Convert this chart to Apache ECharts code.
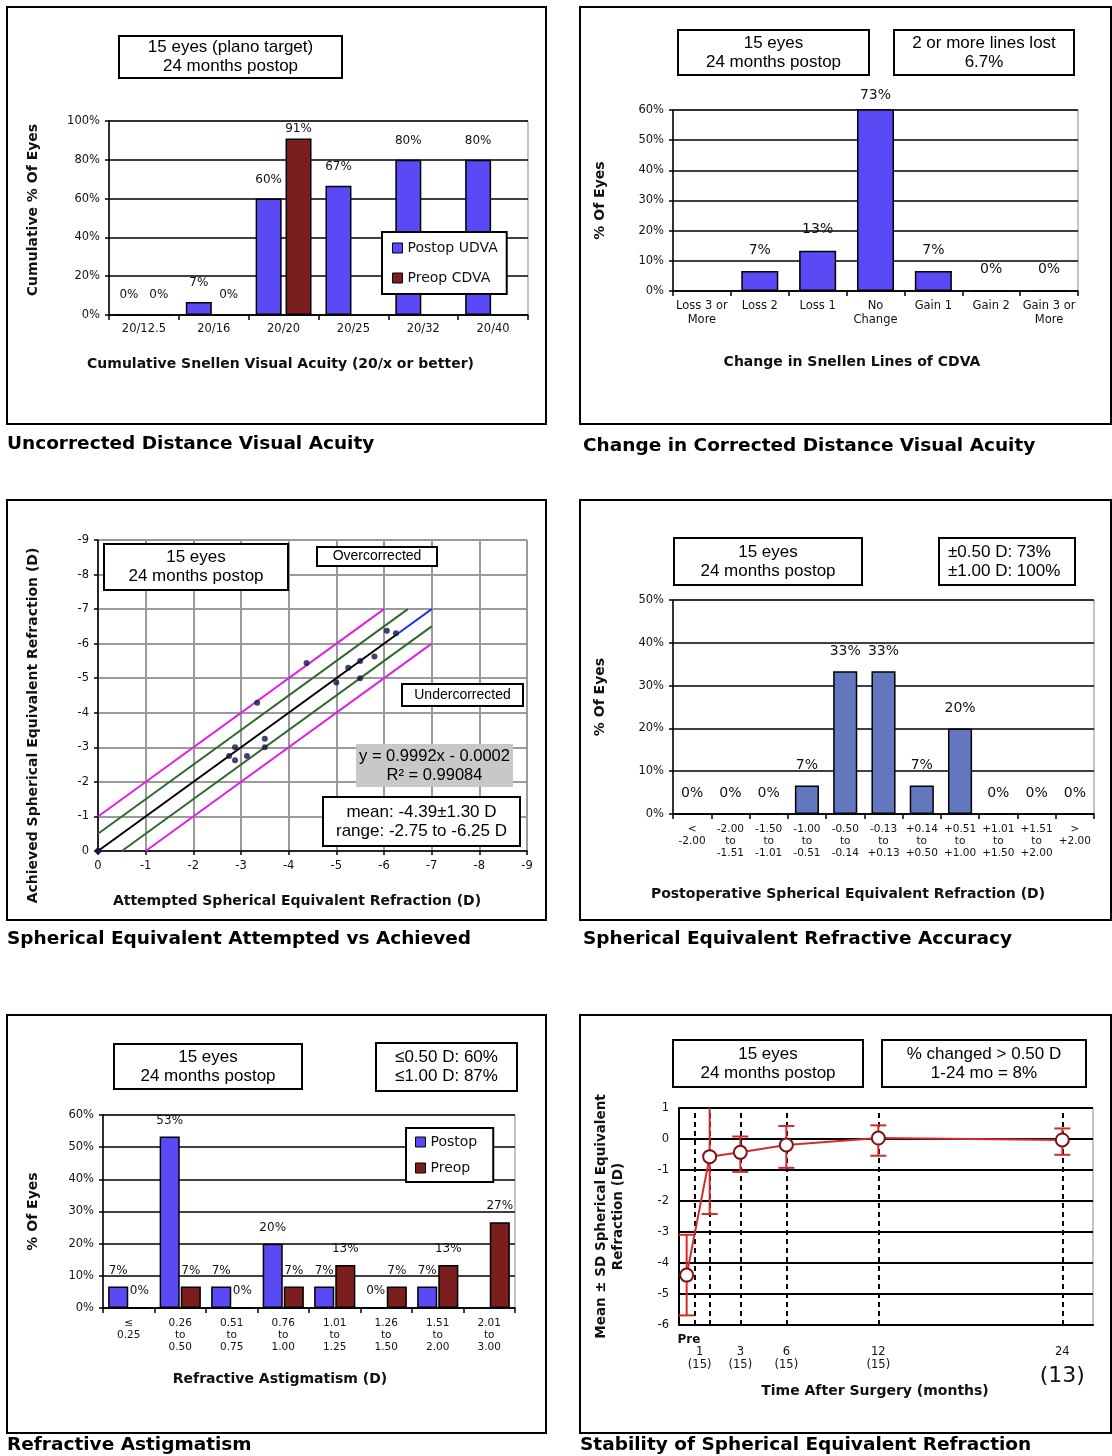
<!DOCTYPE html>
<html>
<head>
<meta charset="utf-8">
<script src="https://cdn.jsdelivr.net/npm/echarts@6/dist/echarts.min.js"></script>
<style>
  html, body { margin: 0; padding: 0; background: #fff; }
  #chart { width: 1112px; height: 1456px; }
</style>
</head>
<body>
<div id="chart"></div>
<script>
// ---------- Uncorrected distance visual acuity (cumulative, 20/x or better) ----------
const udvaCategories = ['20/12.5', '20/16', '20/20', '20/25', '20/32', '20/40'];
const udvaPostop = [0, 6.67, 60, 66.67, 80, 80];
const udvaPreopCdva = [0, 0, 91, null, null, null];

// ---------- Change in Snellen lines of CDVA ----------
const cdvaCategories = ['Loss 3 or\nMore', 'Loss 2', 'Loss 1', 'No\nChange', 'Gain 1', 'Gain 2', 'Gain 3 or\nMore'];
const cdvaValues = [null, 6.67, 13.33, 73.33, 6.67, 0, 0];

// ---------- Attempted vs achieved spherical equivalent (D) ----------
const attemptedSE = [-2.75, -2.875, -2.875, -3.125, -3.5, -3.5, -3.34, -4.375, -5.0, -5.25, -5.5, -5.5, -5.8, -6.06, -6.25];
const achievedSE  = [-2.75, -3.0, -2.625, -2.75, -3.25, -3.0, -4.29, -5.44, -4.875, -5.3, -5.5, -5.0, -5.63, -6.375, -6.3];
const fitSegment   = [[0, 0], [-6.25, -6.25]];
const fitExtension = [[-6.25, -6.25], [-7, -7]];
const halfDioptreBand = [[[0, -0.5], [-6.5, -7]], [[-0.5, 0], [-7, -6.5]]];
const oneDioptreBand  = [[[0, -1], [-6, -7]], [[-1, 0], [-7, -6]]];

// ---------- Postoperative SE refractive accuracy ----------
const seCategories = ['<\n-2.00', '-2.00\nto\n-1.51', '-1.50\nto\n-1.01', '-1.00\nto\n-0.51', '-0.50\nto\n-0.14',
  '-0.13\nto\n+0.13', '+0.14\nto\n+0.50', '+0.51\nto\n+1.00', '+1.01\nto\n+1.50', '+1.51\nto\n+2.00', '>\n+2.00'];
const seValues = [0, 0, 0, 6.67, 33.33, 33.33, 6.67, 20, 0, 0, 0];

// ---------- Refractive astigmatism ----------
const cylCategories = ['≤\n0.25', '0.26\nto\n0.50', '0.51\nto\n0.75', '0.76\nto\n1.00', '1.01\nto\n1.25',
  '1.26\nto\n1.50', '1.51\nto\n2.00', '2.01\nto\n3.00'];
const cylPostop = [6.67, 53.33, 6.67, 20, 6.67, 0, 6.67, null];
const cylPreop  = [0, 6.67, 0, 6.67, 13.33, 6.67, 13.33, 26.67];

// ---------- Stability of SE refraction (mean ± SD) ----------
const stabilityMonths = [-0.5, 1, 3, 6, 12, 24];          // first entry is the preop visit
const stabilityMean   = [-4.39, -0.57, -0.43, -0.19, 0.03, -0.03];
const stabilityLow    = [-5.69, -2.42, -1.06, -0.93, -0.54, -0.51];
const stabilityHigh   = [-3.09, 1.28, 0.08, 0.42, 0.44, 0.34];
const visitGuides     = [0, 1, 3, 6, 12, 24];
const stabilityTicks  = [-1, 1, 3, 6, 12, 24];
const stabilityTickText = ['Pre', '1', '3', '6', '12', '24'];
const stabilityEyes   = [null, 15, 15, 15, 15, 13];

// ---------- shared styles ----------
const SANS = 'DejaVu Sans';
const ARIAL = 'Liberation Sans';
const INK = '#111';
const BLUE = '#5a4af5';
const MAROON = '#7b1e1e';
const STEEL = '#6277bd';
const RED = '#d42a2a';

const pct = p => (p.value == null ? '' : Math.round(p.value) + '%');
const nameFont = { fontFamily: SANS, fontWeight: 'bold', fontSize: 14, color: INK };
const tickFont = { fontFamily: SANS, fontSize: 11.5, color: INK };
const solid = (c, w) => ({ show: true, onZero: false, lineStyle: { color: c, width: w } });
const ticks = len => ({ show: true, length: len, lineStyle: { color: '#000', width: 1.5 } });

function catX(gridIndex, data, name, nameGap, padRight, labelExtra) {
  return {
    type: 'category', gridIndex, data,
    axisLine: solid('#000', 1.5),
    axisTick: ticks(5),
    axisLabel: Object.assign({ interval: 0, margin: 8 }, tickFont, labelExtra || {}),
    splitLine: { show: false },
    name, nameLocation: 'middle', nameGap,
    nameTextStyle: Object.assign({}, nameFont, { padding: [0, padRight, 0, 0] })
  };
}
function pctY(gridIndex, max, interval, name, nameGap, pad) {
  return {
    type: 'value', gridIndex, min: 0, max, interval,
    axisLine: solid('#000', 1.5),
    axisTick: ticks(4),
    axisLabel: Object.assign({ formatter: '{value}%', margin: 9 }, tickFont),
    splitLine: solid('#000', 1.5),
    name, nameLocation: 'middle', nameGap, nameRotate: 90,
    nameTextStyle: Object.assign({}, nameFont, { padding: pad })
  };
}
function barLabel(distance, size) {
  return { show: true, position: 'top', distance, formatter: pct, fontFamily: SANS, fontSize: size, color: INK };
}
const barBorder = { borderColor: '#000', borderWidth: 1.5 };

// framed text boxes
function box(x, y, w, h, text, opt) {
  opt = opt || {};
  const left = opt.align === 'left';
  return [
    { type: 'rect', z: 100, shape: { x, y, width: w, height: h },
      style: { fill: opt.fill || '#fff', stroke: opt.noStroke ? null : '#000', lineWidth: 2 } },
    { type: 'text', z: 101, x: left ? x + 9 : x + w / 2, y: y + h / 2,
      style: { text, fill: '#000', fontFamily: ARIAL, fontSize: opt.size || 17, lineHeight: opt.lh || 19,
               align: left ? 'left' : 'center', verticalAlign: 'middle' } }
  ];
}
function frame(x, y, w, h) {
  return { type: 'rect', z: 90, shape: { x, y, width: w, height: h },
           style: { fill: null, stroke: '#000', lineWidth: 2 } };
}
function panelTitle(text, left, centerY) {
  return { text, left, top: centerY - 8, padding: 0,
           textStyle: { fontFamily: SANS, fontWeight: 'bold', fontSize: 18.5, color: '#000' } };
}

const chart = echarts.init(document.getElementById('chart'), null, { renderer: 'canvas' });

const option = {
  animation: false,
  backgroundColor: '#fff',
  title: [
    panelTitle('Uncorrected Distance Visual Acuity', 7, 443),
    panelTitle('Change in Corrected Distance Visual Acuity', 583, 445),
    panelTitle('Spherical Equivalent Attempted vs Achieved', 7, 938),
    panelTitle('Spherical Equivalent Refractive Accuracy', 583, 938),
    panelTitle('Refractive Astigmatism', 7, 1444),
    panelTitle('Stability of Spherical Equivalent Refraction', 580, 1444)
  ],
  legend: [
    { data: ['Postop UDVA', 'Preop CDVA'], left: 382, top: 232, orient: 'vertical', icon: 'rect',
      itemWidth: 10, itemHeight: 10, itemGap: 14, padding: [8, 9, 8, 10], selectedMode: false,
      backgroundColor: '#fff', borderColor: '#000', borderWidth: 2,
      itemStyle: { borderColor: '#000', borderWidth: 1 },
      textStyle: { fontFamily: SANS, fontSize: 14, color: INK, lineHeight: 16 } },
    { data: ['Postop', 'Preop'], left: 406, top: 1128, orient: 'vertical', icon: 'rect',
      itemWidth: 10, itemHeight: 10, itemGap: 10, padding: [6, 16, 6, 9], selectedMode: false,
      backgroundColor: '#fff', borderColor: '#000', borderWidth: 2,
      itemStyle: { borderColor: '#000', borderWidth: 1 },
      textStyle: { fontFamily: SANS, fontSize: 14, color: INK, lineHeight: 16 } }
  ],
  grid: [
    { left: 109, top: 121, width: 419, height: 194 },
    { left: 673, top: 110, width: 405, height: 181 },
    { left: 98, top: 540, width: 429, height: 311 },
    { left: 673, top: 600, width: 421, height: 214 },
    { left: 103, top: 1115, width: 412, height: 193 },
    { left: 679, top: 1108, width: 414, height: 217 }
  ].map(g => Object.assign({ show: true, borderColor: '#8a8a8a', borderWidth: 1, backgroundColor: 'transparent' }, g)),
  xAxis: [
    catX(0, udvaCategories, 'Cumulative Snellen Visual Acuity (20/x or better)', 42, 76),
    catX(1, cdvaCategories, 'Change in Snellen Lines of CDVA', 64, 47, { lineHeight: 14 }),
    {
      type: 'value', gridIndex: 2, min: -9, max: 0, interval: 1, inverse: true,
      axisLine: solid('#000', 1.5), axisTick: ticks(4),
      axisLabel: Object.assign({ margin: 9 }, tickFont),
      splitLine: solid('#9a9a9a', 2),
      name: 'Attempted Spherical Equivalent Refraction (D)', nameLocation: 'middle', nameGap: 43,
      nameTextStyle: Object.assign({}, nameFont, { padding: [0, 31, 0, 0] })
    },
    catX(3, seCategories, 'Postoperative Spherical Equivalent Refraction (D)', 73, 71,
      { fontSize: 10.5, lineHeight: 12, margin: 9 }),
    catX(4, cylCategories, 'Refractive Astigmatism (D)', 64, 58,
      { fontSize: 10.5, lineHeight: 12, margin: 9 }),
    {
      type: 'value', gridIndex: 5, min: -1, max: 26, interval: 1,
      axisLine: solid('#000', 2), axisTick: { show: false }, splitLine: { show: false },
      axisLabel: Object.assign({}, tickFont, {
        margin: 8, lineHeight: 13, fontSize: 11.5,
        formatter: v => {
          const i = stabilityTicks.indexOf(v);
          if (i < 0) return '';
          if (i === 0) return '{pre|' + stabilityTickText[0] + '}';
          const n = '(' + stabilityEyes[i] + ')';
          if (i === stabilityTicks.length - 1) return '\n' + stabilityTickText[i] + '\n{big|' + n + '}';
          if (i === 1) return '\n{one|' + stabilityTickText[i] + '}\n{one|' + n + '}';
          return '\n' + stabilityTickText[i] + '\n' + n;
        },
        rich: {
          pre: { fontFamily: SANS, fontWeight: 'bold', fontSize: 12, color: INK, padding: [0, 0, 0, 20] },
          one: { fontFamily: SANS, fontSize: 11.5, color: INK, lineHeight: 13, padding: [0, 20, 0, 0] },
          big: { fontFamily: SANS, fontSize: 22, color: INK, lineHeight: 34 }
        }
      }),
      name: 'Time After Surgery (months)', nameLocation: 'middle', nameGap: 59, nameMoveOverlap: false,
      nameTextStyle: Object.assign({}, nameFont, { padding: [0, 22, 0, 0] })
    }
  ],
  yAxis: [
    pctY(0, 100, 20, 'Cumulative % Of Eyes', 69, [0, 0, 0, 16]),
    pctY(1, 60, 10, '% Of Eyes', 66, 0),
    {
      type: 'value', gridIndex: 2, min: -9, max: 0, interval: 1, inverse: true,
      axisLine: solid('#000', 1.5), axisTick: ticks(4),
      axisLabel: Object.assign({ margin: 9 }, tickFont),
      splitLine: solid('#9a9a9a', 2),
      name: 'Achieved Spherical Equivalent Refraction (D)', nameLocation: 'middle', nameGap: 58, nameRotate: 90,
      nameTextStyle: Object.assign({}, nameFont, { padding: [0, 60, 0, 0] })
    },
    pctY(3, 50, 10, '% Of Eyes', 66, [0, 0, 0, 20]),
    pctY(4, 60, 10, '% Of Eyes', 63, 0),
    {
      type: 'value', gridIndex: 5, min: -6, max: 1, interval: 1,
      axisLine: solid('#000', 2), axisTick: { show: false },
      axisLabel: Object.assign({ margin: 10 }, tickFont),
      splitLine: solid('#000', 2),
      name: 'Mean ± SD Spherical Equivalent\nRefraction (D)', nameLocation: 'middle', nameGap: 52, nameRotate: 90,
      nameTextStyle: Object.assign({}, nameFont, { fontSize: 13.5, lineHeight: 17 })
    }
  ],
  series: [
    // panel 1
    { name: 'Postop UDVA', type: 'bar', xAxisIndex: 0, yAxisIndex: 0, data: udvaPostop,
      barCategoryGap: '20%', barGap: '15%', itemStyle: Object.assign({ color: BLUE }, barBorder),
      label: barLabel(13, 12) },
    { name: 'Preop CDVA', type: 'bar', xAxisIndex: 0, yAxisIndex: 0,
      // labels of bars reaching near the frame top sit tight against the bar
      data: udvaPreopCdva.map(v => (v != null && v > 85 ? { value: v, label: { distance: 4 } } : v)),
      barCategoryGap: '20%', barGap: '15%', itemStyle: Object.assign({ color: MAROON }, barBorder),
      label: barLabel(13, 12) },
    // panel 2
    { name: 'CDVA change', type: 'bar', xAxisIndex: 1, yAxisIndex: 1,
      data: cdvaValues.map(v => (v != null && v > 60 ? { value: v, label: { distance: 7 } } : v)),
      barCategoryGap: '36%', clip: true, itemStyle: Object.assign({ color: BLUE }, barBorder),
      label: barLabel(14, 14) },
    // panel 3
    ...oneDioptreBand.map(seg => ({ type: 'line', xAxisIndex: 2, yAxisIndex: 2, data: seg, symbol: 'none',
      silent: true, z: 3, lineStyle: { color: '#e020e6', width: 2 } })),
    ...halfDioptreBand.map(seg => ({ type: 'line', xAxisIndex: 2, yAxisIndex: 2, data: seg, symbol: 'none',
      silent: true, z: 3, lineStyle: { color: '#2f6a2f', width: 2 } })),
    { type: 'line', xAxisIndex: 2, yAxisIndex: 2, data: fitExtension, symbol: 'none', silent: true, z: 3,
      lineStyle: { color: '#2233ee', width: 2 } },
    { type: 'line', xAxisIndex: 2, yAxisIndex: 2, silent: true, z: 4, symbol: 'none', showSymbol: true,
      data: fitSegment.map((p, i) => (i === 0 ? { value: p, symbol: 'circle', symbolSize: 6, itemStyle: { color: '#14144a' } } : p)),
      lineStyle: { color: '#000', width: 2 } },
    { type: 'scatter', xAxisIndex: 2, yAxisIndex: 2, z: 5, symbolSize: 6,
      data: attemptedSE.map((a, i) => [a, achievedSE[i]]), itemStyle: { color: '#14144a' } },
    // panel 4
    { name: 'SE accuracy', type: 'bar', xAxisIndex: 3, yAxisIndex: 3, data: seValues,
      barCategoryGap: '37%', itemStyle: Object.assign({ color: STEEL }, barBorder),
      label: barLabel(13, 14) },
    // panel 5
    { name: 'Postop', type: 'bar', xAxisIndex: 4, yAxisIndex: 4, data: cylPostop,
      barCategoryGap: '20%', barGap: '5%', itemStyle: Object.assign({ color: BLUE }, barBorder),
      label: barLabel(10, 12) },
    { name: 'Preop', type: 'bar', xAxisIndex: 4, yAxisIndex: 4, data: cylPreop,
      barCategoryGap: '20%', barGap: '5%', itemStyle: Object.assign({ color: MAROON }, barBorder),
      label: barLabel(10, 12) },
    // panel 6: visit guide lines
    { type: 'line', xAxisIndex: 5, yAxisIndex: 5, data: [], z: 1, silent: true,
      markLine: { silent: true, symbol: ['none', 'none'], z: 1, label: { show: false },
        lineStyle: { color: '#000', width: 2, type: [5, 4] },
        data: visitGuides.map(m => ({ xAxis: m })) } },
    // panel 6: SD error bars
    { type: 'custom', xAxisIndex: 5, yAxisIndex: 5, z: 6, silent: true,
      data: stabilityMonths.map((m, i) => [m, stabilityLow[i], stabilityHigh[i]]),
      encode: { x: 0, y: [1, 2] },
      renderItem: (params, api) => {
        const cs = params.coordSys;
        const lo = api.coord([api.value(0), api.value(1)]);
        const hi = api.coord([api.value(0), api.value(2)]);
        const x = lo[0];
        const top = Math.max(hi[1], cs.y);
        const bottom = Math.min(lo[1], cs.y + cs.height);
        const st = { stroke: RED, lineWidth: 2 };
        const half = 8;
        const kids = [{ type: 'line', shape: { x1: x, y1: bottom, x2: x, y2: top }, style: st }];
        if (hi[1] >= cs.y) kids.push({ type: 'line', shape: { x1: x - half, y1: hi[1], x2: x + half, y2: hi[1] }, style: st });
        if (lo[1] <= cs.y + cs.height) kids.push({ type: 'line', shape: { x1: x - half, y1: lo[1], x2: x + half, y2: lo[1] }, style: st });
        return { type: 'group', children: kids };
      } },
    // panel 6: mean trajectory
    { type: 'line', xAxisIndex: 5, yAxisIndex: 5, z: 8, silent: true,
      data: stabilityMonths.map((m, i) => [m, stabilityMean[i]]),
      symbol: 'circle', symbolSize: 13, showSymbol: true,
      itemStyle: { color: '#fff', borderColor: '#7a1515', borderWidth: 2 },
      lineStyle: { color: RED, width: 2 } }
  ],
  graphic: [
    frame(7, 7, 539, 417), frame(580, 7, 531, 417),
    frame(7, 500, 539, 420), frame(580, 500, 531, 420),
    frame(7, 1015, 539, 418), frame(580, 1015, 531, 418),
    ...box(119, 36, 223, 42, '15 eyes (plano target)\n24 months postop'),
    ...box(678, 30, 191, 45, '15 eyes\n24 months postop'),
    ...box(894, 30, 180, 45, '2 or more lines lost\n6.7%'),
    ...box(104, 544, 184, 46, '15 eyes\n24 months postop'),
    ...box(317, 547, 120, 19, 'Overcorrected', { size: 14 }),
    ...box(402, 684, 121, 22, 'Undercorrected', { size: 14 }),
    ...box(356, 744, 157, 43, 'y = 0.9992x - 0.0002\nR² = 0.99084', { fill: '#c8c8c8', noStroke: true, size: 16.5 }),
    ...box(323, 797, 197, 49, 'mean: -4.39±1.30 D\nrange: -2.75 to -6.25 D'),
    ...box(674, 538, 188, 47, '15 eyes\n24 months postop'),
    ...box(939, 538, 136, 47, '±0.50 D: 73%\n±1.00 D: 100%', { align: 'left' }),
    ...box(114, 1044, 188, 45, '15 eyes\n24 months postop'),
    ...box(376, 1043, 141, 48, '≤0.50 D: 60%\n≤1.00 D: 87%'),
    ...box(673, 1040, 190, 47, '15 eyes\n24 months postop'),
    ...box(882, 1040, 204, 47, '% changed > 0.50 D\n1-24 mo = 8%')
  ]
};

chart.setOption(option);
</script>
</body>
</html>
